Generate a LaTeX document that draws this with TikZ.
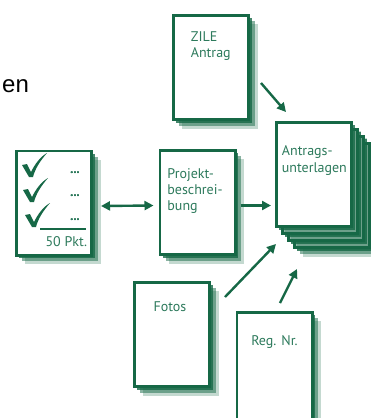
\documentclass[tikz,border=0pt]{standalone}
\usepackage{fontspec}
\setmainfont{PT Sans}
\newfontfamily\slidefont{Liberation Sans}
\usetikzlibrary{arrows.meta,shadows,positioning}

\definecolor{docgreen}{RGB}{22,104,70}
\definecolor{txtgreen}{RGB}{45,122,92}

\tikzset{
  page/.style={draw=docgreen, line width=2.6pt, fill=white,
    minimum width=75.4pt, minimum height=104.4pt,
    drop shadow={shadow xshift=9pt, shadow yshift=-9pt, fill=docgreen, opacity=.25, rounded corners=4pt},
    drop shadow={shadow xshift=6pt, shadow yshift=-6pt, fill=docgreen, opacity=.5, rounded corners=2pt},
    drop shadow={shadow xshift=3pt, shadow yshift=-3pt, fill=docgreen, opacity=.8}},
  lbl/.style={text=txtgreen, font=\fontsize{14}{16}\selectfont, align=left, inner sep=0pt},
  dotsy/.style={text=txtgreen, font=\fontsize{12}{12}\selectfont\bfseries, inner sep=0pt},
  arr/.style={draw=docgreen, line width=2.4pt, >={Triangle[length=9pt,width=9pt]}, ->}
}

% tick mark, #1 = bottom point
\newcommand{\tickmark}[1]{\fill[docgreen, shift={#1}] (-8,-11) -- (-3,-12) -- (1,-4)
  .. controls (5,-12) and (10,-19) .. (17,-23) .. controls (10,-15) and (5,-7) .. (3,1) -- (-1,1) -- cycle;}

\begin{document}
\begin{tikzpicture}[x=1pt,y=-1pt]
  \path[use as bounding box, fill=white] (0,0) rectangle (371,418);

  \node[font=\slidefont\fontsize{24}{28}\selectfont, anchor=base west, inner sep=0pt] (en) at (2,92) {en};

  % pages
  \path (211,67.5) node[page] (zile) {};
  \path (54,203) node[page] (check) {};
  \path (197.5,202.5) node[page] (projekt) {};
  \foreach \k in {3,2,1}
    \path (314+6*\k,174.5+7*\k) node[page] (antrag\k) {};
  \path (314,174.5) node[page] (antrag) {};
  \path (172,334.5) node[page] (fotos) {};
  \path (274.5,366) node[page, minimum height=107.4pt] (reg) {};

  % texts
  \node[lbl, anchor=north west] (zileT) at ([xshift=18.7pt,yshift=-17.7pt]zile.north west) {ZILE\\Antrag};
  \node[lbl, anchor=north west] (projektT) at ([xshift=8.7pt,yshift=-19.5pt]projekt.north west) {Projekt-\\beschrei-\\bung};
  \node[lbl, anchor=north west, font=\fontsize{14}{17.5}\selectfont] (antragT) at ([xshift=6.7pt,yshift=-24pt]antrag.north west) {Antrags-\\unterlagen};
  \node[lbl, anchor=base] (fotosT) at ([xshift=-2pt,yshift=-30.7pt]fotos.north) {Fotos};
  \node[lbl, anchor=base] (regT) at ([yshift=-34.7pt]reg.north) {Reg. Nr.};
  \node[lbl, anchor=base east] (pktT) at ([xshift=-5.7pt,yshift=9.7pt]check.south east) {50 Pkt.};

  % check list
  \foreach \bx/\by in {30/176, 31/201, 33/226}
    \tickmark{(\bx,\by)}
  \foreach \dy [count=\i] in {173,196,220}
    \node[dotsy] (dots\i) at (75,\dy) {...};
  \draw[docgreen, line width=2.6pt] (40,229) -- (86,229);

  % arrows
  \coordinate (pa) at (projekt.east -| antrag.west);
  \draw[arr] ([xshift=11pt,yshift=-15.5pt]zile.east) -- ([xshift=11pt,yshift=9pt]antrag.north west);
  \draw[arr, <->] ([xshift=8pt,yshift=-3pt]check.east) -- ([xshift=-5pt,yshift=-3pt]projekt.west);
  \draw[arr] ([xshift=4pt,yshift=-3pt]projekt.east) -- ([xshift=-4pt,yshift=-3pt]pa);
  \draw[arr] ([xshift=14pt,yshift=-16pt]fotos.north east) -- ([xshift=1pt,yshift=-16pt]antrag.south west);
  \draw[arr] ([xshift=5.5pt,yshift=8pt]reg.north) -- ([xshift=-17pt,yshift=-41pt]antrag.south);
\end{tikzpicture}
\end{document}
